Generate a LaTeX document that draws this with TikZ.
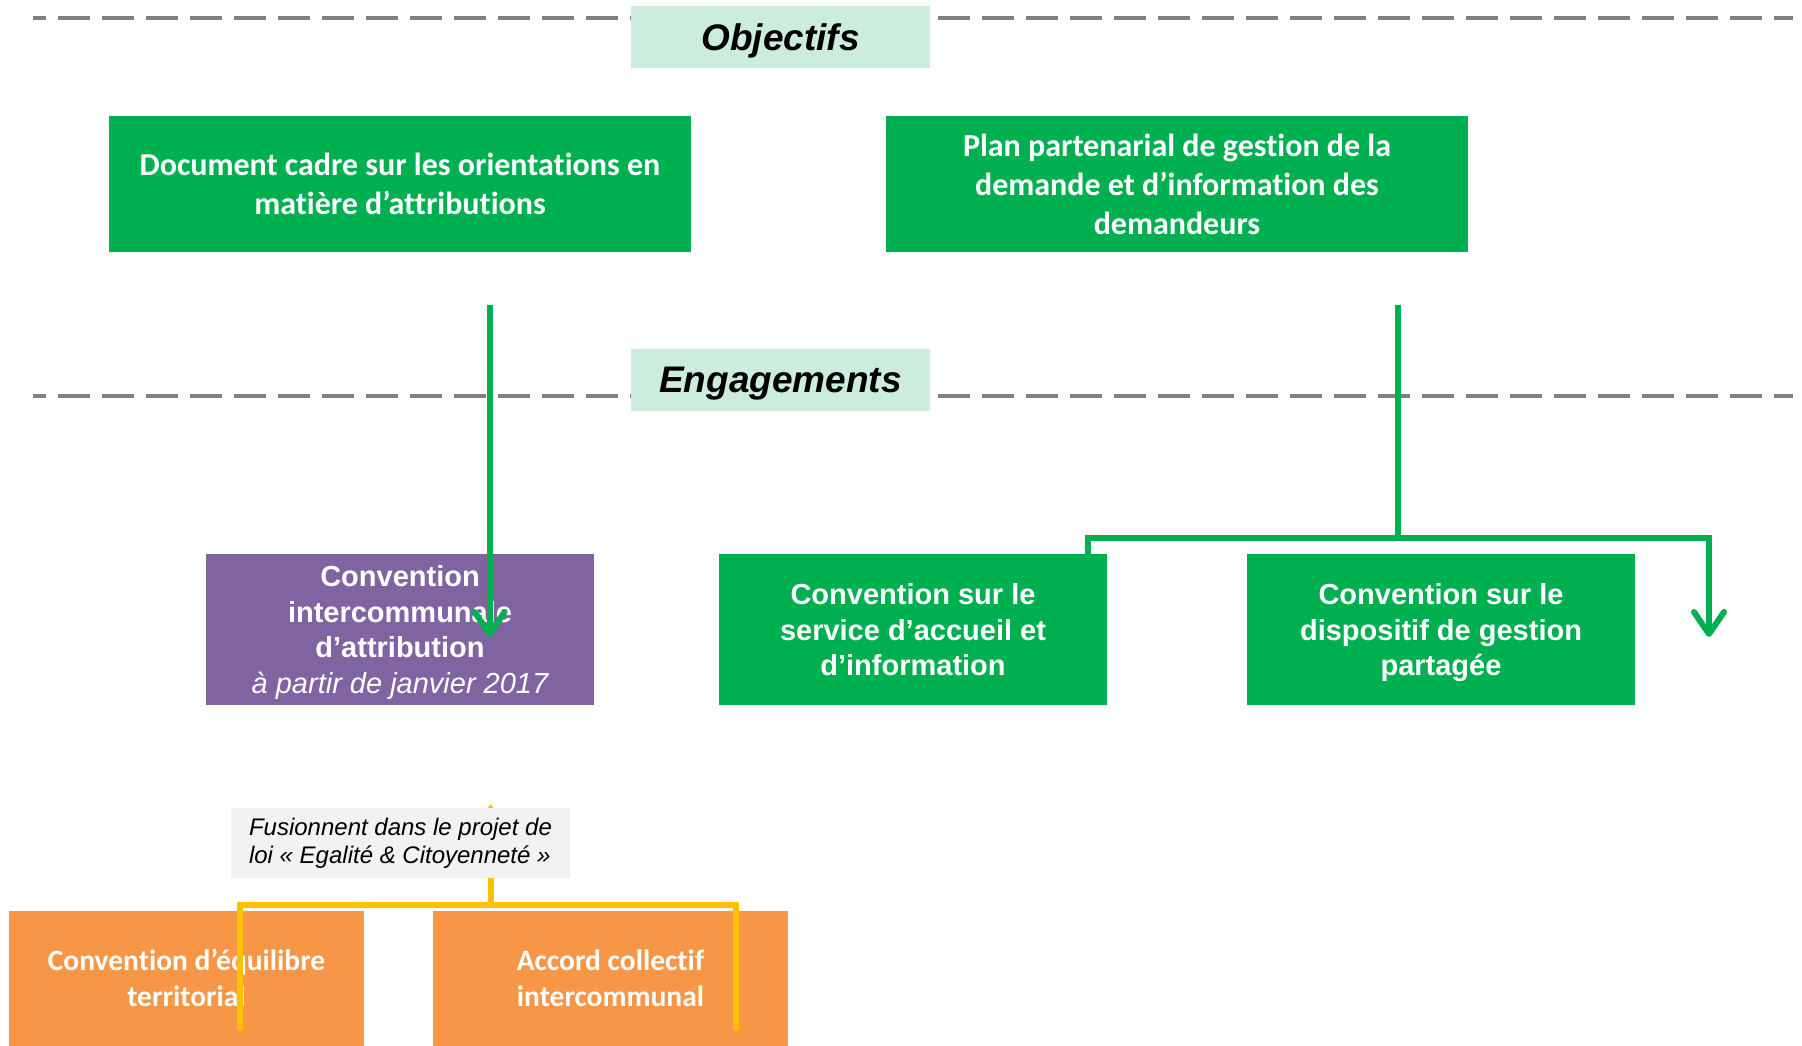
\documentclass[tikz,border=0pt]{standalone}
\usepackage{fontspec}
\setmainfont{Liberation Sans}
\newfontfamily\calibri[Ligatures=NoCommon]{Carlito}
\usetikzlibrary{arrows.meta}
\definecolor{cgreen}{HTML}{00B050}
\definecolor{cpurple}{HTML}{8064A2}
\definecolor{corange}{HTML}{F79646}
\definecolor{clight}{HTML}{CCEDDD}
\definecolor{cgraybox}{HTML}{F2F2F2}
\definecolor{cyellow}{HTML}{FFC000}
\definecolor{cdash}{HTML}{808080}
\tikzset{
  box/.style={rectangle, inner sep=0pt, align=center, text=white},
  titlebox/.style={rectangle, inner sep=0pt, fill=clight, minimum width=299pt, minimum height=62pt, text depth=0pt,
     font=\fontsize{37}{44}\selectfont\bfseries\itshape},
  topbox/.style={box, fill=cgreen, minimum width=582pt, minimum height=136pt,
     font=\calibri\fontsize{32}{39}\selectfont\bfseries},
  midbox/.style={box, minimum width=388pt, minimum height=151pt, text depth=0pt,
     font=\fontsize{29}{35.5}\selectfont\bfseries},
  orbox/.style={box, fill=corange, minimum width=355pt, minimum height=135pt,
     font=\calibri\fontsize{29.5}{36}\selectfont\bfseries},
  sepline/.style={draw=cdash, line width=4pt, dash pattern=on 32pt off 12pt},
  gline/.style={draw=cgreen, line width=6pt},
  gtip/.style={-{Straight Barb[length=22pt,width=30pt,line join=round,line cap=round]}},
  yline/.style={draw=cyellow, line width=6pt},
}
\begin{document}
\begin{tikzpicture}[x=1pt,y=-1pt]
\useasboundingbox[fill=white] (0,0) rectangle (1802,1045);
% separator lines
\draw[sepline, dash phase=19pt] (33,18) -- (1793,18);
\draw[sepline, dash phase=19pt] (33,396) -- (1793,396);
% titles
\node[titlebox] (obj) at (780.5,37) {Objectifs};
\node[titlebox] (eng) at (780.5,380) {Engagements};
% top boxes
\node[topbox] (doc) at (400,184) {Document cadre sur les orientations en\\matière d’attributions};
\node[topbox] (plan) at (1177,184) {Plan partenarial de gestion de la\\demande et d’information des\\demandeurs};
% middle boxes
\node[midbox, fill=cpurple] (cia) at (400,629.5) {Convention\\intercommunale\\d’attribution\\{\mdseries\itshape à partir de janvier 2017}};
\node[midbox, fill=cgreen] (serv) at (913,629.5) {Convention sur le\\service d’accueil et\\d’information};
\node[midbox, fill=cgreen] (disp) at (1441,629.5) {Convention sur le\\dispositif de gestion\\partagée};
% green connectors
\coordinate (gA) at (489.6,305);
\coordinate (tipA) at (489.6,637);
\coordinate (gB) at (1397.5,305);
\coordinate (jL) at (1088,538);
\coordinate (jR) at (1709,538);
\coordinate (tipB) at (1709,637);
\draw[gline, gtip] (gA) -- (tipA);
\draw[gline] (gB) -- (gB |- jL);
\draw[gline, gtip] (jL |- serv.north) -- (jL) -- (jR) -- (tipB);
% orange boxes
\node[orbox] (cet) at (186.5,978) {Convention d’équilibre\\territorial};
\node[orbox] (aci) at (610.5,978) {Accord collectif\\intercommunal};
% yellow connectors
\coordinate (yC) at (490.5,905);
\coordinate (yT) at (490.5,804);
\coordinate (yL) at (240,905);
\coordinate (yR) at (736,905);
\draw[yline] (yL |- 0,1030) -- (yL) -- (yR) -- (yR |- 0,1030);
\draw[yline, -{Triangle[length=6pt,width=8pt]}] (yC) -- (yT);
% fusion box
\node[rectangle, fill=cgraybox, inner sep=0pt, minimum width=339pt, minimum height=70pt,
      align=left, font=\fontsize{24}{28}\selectfont\itshape] (fus) at (400.5,843)
      {Fusionnent dans le projet de\\loi « Egalité \& Citoyenneté »};
\end{tikzpicture}
\end{document}
